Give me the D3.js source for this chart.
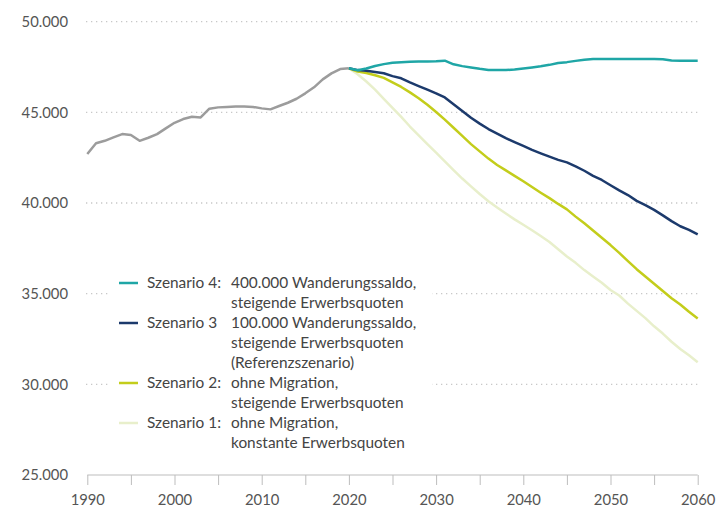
<!DOCTYPE html>
<html>
<head>
<meta charset="utf-8">
<script src="https://cdn.jsdelivr.net/npm/d3@7"></script>
<style>
  body { margin: 0; background: #fff; }
  svg { font-family: Lato, "Noto Sans", sans-serif; }
</style>
</head>
<body>
<div id="chart"></div>
<script>
// Erwerbspersonenpotenzial in Tausend
var historyYears = d3.range(1990, 2021);
var historyValues = [42700, 43300, 43430, 43620, 43800, 43750, 43430, 43600, 43800, 44115,
    44425, 44630, 44760, 44720, 45200, 45275, 45300, 45320, 45320, 45300,
    45220, 45165, 45350, 45530, 45750, 46050, 46380, 46820, 47150, 47390, 47430];

var scenarioYears = d3.range(2020, 2061);
// Szenario 4: 400.000 Wanderungssaldo, steigende Erwerbsquoten
var szenario4 = [47430, 47320, 47420, 47560, 47660, 47730, 47760, 47790, 47800, 47810,
    47820, 47850, 47650, 47550, 47480, 47400, 47340, 47330, 47330, 47360,
    47420, 47480, 47540, 47620, 47720, 47770, 47840, 47900, 47940, 47940,
    47940, 47940, 47940, 47940, 47940, 47940, 47930, 47860, 47850, 47850, 47850];
// Szenario 3: 100.000 Wanderungssaldo (Referenzszenario)
var szenario3 = [47430, 47330, 47300, 47230, 47160, 47000, 46880, 46650, 46450, 46250,
    46050, 45820, 45450, 45080, 44700, 44380, 44080, 43830, 43580, 43360,
    43150, 42930, 42740, 42560, 42380, 42240, 42020, 41780, 41500, 41270,
    40980, 40700, 40440, 40120, 39880, 39620, 39320, 39000, 38720, 38520, 38270];
// Szenario 2: ohne Migration, steigende Erwerbsquoten
var szenario2 = [47430, 47250, 47170, 47050, 46900, 46650, 46400, 46100, 45780, 45420,
    45020, 44600, 44150, 43700, 43250, 42850, 42450, 42100, 41800, 41500,
    41200, 40880, 40570, 40270, 39950, 39650, 39250, 38880, 38480, 38080,
    37680, 37250, 36800, 36350, 35950, 35550, 35150, 34750, 34400, 34000, 33630];
// Szenario 1: ohne Migration, konstante Erwerbsquoten
var szenario1 = [47430, 47100, 46700, 46250, 45750, 45250, 44750, 44220, 43730, 43250,
    42780, 42300, 41820, 41350, 40920, 40500, 40100, 39750, 39420, 39100,
    38800, 38500, 38180, 37850, 37450, 37050, 36700, 36300, 35950, 35600,
    35200, 34900, 34450, 34050, 33650, 33200, 32800, 32350, 31950, 31600, 31220];

var yTicks = [25000, 30000, 35000, 40000, 45000, 50000];
var xTickLabels = [1990, 2000, 2010, 2020, 2030, 2040, 2050, 2060];

var legendLabels = ["Szenario 4:", "Szenario 3", "Szenario 2:", "Szenario 1:"];
var legendTexts = [
    ["400.000 Wanderungssaldo,", "steigende Erwerbsquoten"],
    ["100.000 Wanderungssaldo,", "steigende Erwerbsquoten", "(Referenzszenario)"],
    ["ohne Migration,", "steigende Erwerbsquoten"],
    ["ohne Migration,", "konstante Erwerbsquoten"]
];
var colors = ["#1fa6a6", "#1c3a6c", "#c3cd1b", "#e8efcb"];

var width = 728, height = 510;
var svg = d3.select("#chart").append("svg")
    .attr("width", width)
    .attr("height", height);

var x = d3.scaleLinear().domain([1990, 2060]).range([87.3, 697.7]);
var y = d3.scaleLinear().domain([25000, 50000]).range([475, 21.7]);

var fmt = function(v) { return d3.format(",")(v).replace(/,/g, "."); };

// gridlines
svg.append("g").selectAll("line")
    .data(yTicks.slice(1))
    .enter()
    .append("line")
    .attr("x1", 86)
    .attr("x2", 698)
    .attr("y1", function(d) { return y(d); })
    .attr("y2", function(d) { return y(d); })
    .attr("stroke", "#c8c8c8")
    .attr("stroke-width", 1.3)
    .attr("stroke-dasharray", "1.3,3.7");

// y labels
svg.append("g").selectAll("text")
    .data(yTicks)
    .enter()
    .append("text")
    .attr("x", 68)
    .attr("y", function(d) { return y(d); })
    .attr("dy", "0.35em")
    .attr("text-anchor", "end")
    .attr("fill", "#555")
    .style("font-size", "14.8px")
    .text(fmt);

// x axis
var xAxis = d3.axisBottom(x)
    .tickValues(d3.range(1990, 2061, 5))
    .tickSize(10)
    .tickFormat(function(d) { return xTickLabels.indexOf(d) >= 0 ? d : ""; });

var gx = svg.append("g")
    .attr("transform", "translate(0," + y(25000) + ")")
    .call(xAxis);
gx.select(".domain").attr("stroke", "#bdbdbd").attr("d", "M" + x(1990) + ",0H" + x(2060));
gx.selectAll(".tick line").attr("stroke", "#bdbdbd");
gx.selectAll(".tick text")
    .attr("y", 19)
    .attr("fill", "#555")
    .style("font-size", "14.8px")
    .style("font-family", "Lato, 'Noto Sans', sans-serif");

// lines
var line = d3.line()
    .x(function(d) { return x(d[0]); })
    .y(function(d) { return y(d[1]); });

var series = [
    {values: szenario1, color: colors[3]},
    {values: szenario2, color: colors[2]},
    {values: szenario3, color: colors[1]},
    {values: szenario4, color: colors[0]}
];

svg.append("path")
    .datum(d3.zip(historyYears, historyValues))
    .attr("fill", "none")
    .attr("stroke", "#9c9c9c")
    .attr("stroke-width", 2.5)
    .attr("stroke-linejoin", "round")
    .attr("d", line);

series.forEach(function(s) {
    svg.append("path")
	.datum(d3.zip(scenarioYears, s.values))
	.attr("fill", "none")
	.attr("stroke", s.color)
	.attr("stroke-width", 2.5)
	.attr("stroke-linejoin", "round")
	.attr("d", line);
});

// legend
var legend = svg.append("g");
legend.append("rect")
    .attr("x", 108)
    .attr("y", 266)
    .attr("width", 324)
    .attr("height", 190)
    .attr("fill", "#fff");

var rowH = 20, row = 0;
legendLabels.forEach(function(lab, i) {
    var yy = 283 + row * rowH;
    legend.append("line")
	.attr("x1", 119).attr("x2", 138)
	.attr("y1", yy).attr("y2", yy)
	.attr("stroke", colors[i])
	.attr("stroke-width", 2.5);
    legend.append("text")
	.attr("x", 147).attr("y", yy)
	.attr("dy", "0.35em")
	.attr("fill", "#444")
	.style("font-size", "15.4px")
	.text(lab);
    legendTexts[i].forEach(function(t, j) {
	legend.append("text")
	    .attr("x", 231).attr("y", yy + j * rowH)
	    .attr("dy", "0.35em")
	    .attr("fill", "#444")
	    .style("font-size", "15.4px")
	    .text(t);
    });
    row += legendTexts[i].length;
});
</script>
</body>
</html>
